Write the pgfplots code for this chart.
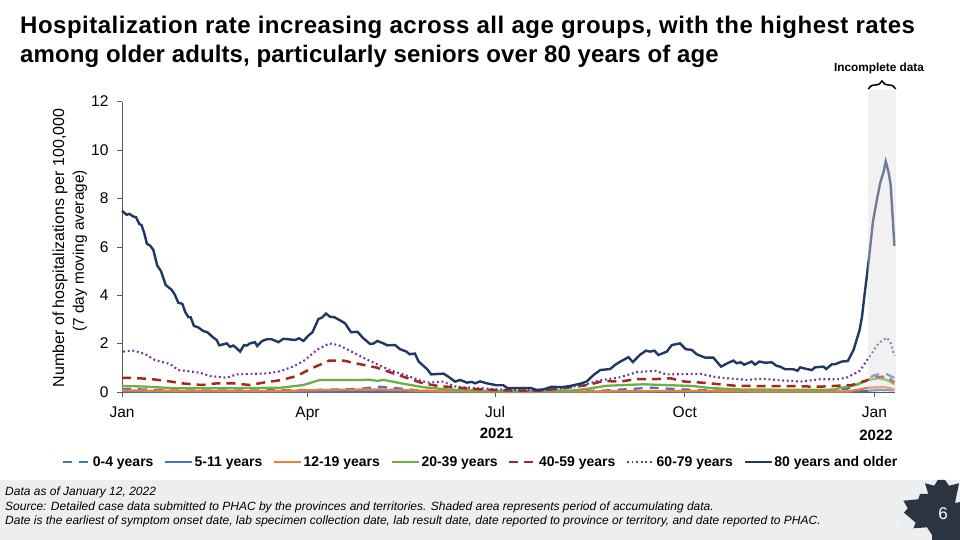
\documentclass[border=0pt]{standalone}
\usepackage{fontspec}
\setmainfont{Liberation Sans}
\usepackage{pgfplots}
\pgfplotsset{compat=1.18}
\usetikzlibrary{decorations.pathreplacing}

\definecolor{bluec}{HTML}{4472C4}
\definecolor{orangec}{HTML}{ED7D31}
\definecolor{greenc}{HTML}{70AD47}
\definecolor{redc}{HTML}{A5281B}
\definecolor{purplec}{HTML}{7030A0}
\definecolor{navyc}{HTML}{1F3864}
\definecolor{axisc}{HTML}{595959}
\definecolor{footc}{HTML}{ECEEF0}
\definecolor{leafc}{HTML}{2B3542}

\newcommand{\leg}[2]{\makebox[#1pt][l]{\strut #2}}

\begin{document}
\begin{tikzpicture}
% everything outside the axis is in image pixels, y downwards
\begin{scope}[x=1pt,y=-1pt,yshift=540pt]
\path[use as bounding box,fill=white] (0,0) rectangle (960,540);
\fill[footc] (0,480) rectangle (960,540);
\end{scope}

\begin{axis}[
    at={(122pt,147.7pt)},
    anchor=south west,
    scale only axis,
    width=773pt,
    height=290.6pt,
    xmin=0, xmax=375,
    ymin=0, ymax=12,
    axis lines=left,
    axis line style={-,axisc,line width=0.9pt},
    clip=false,
    tick align=outside,
    major tick length=5pt,
    tick style={axisc,line width=0.9pt},
    xtick={0,90,181,273,365},
    xticklabels={Jan,Apr,Jul,Oct,Jan},
    ytick={0,2,4,6,8,10,12},
    /pgf/number format/assume math mode=true,
    typeset ticklabels with strut,
    tick label style={font=\fontsize{15.5}{18}\selectfont},
    x tick label style={yshift=-4pt},
    y tick label style={xshift=-5pt,yshift=-1.5pt},
    legend columns=7,
    legend cell align=left,
    legend style={
        at={(-0.0776,-0.24)},
        anchor=west,
        draw=none,
        fill=none,
        inner sep=0pt,
        font=\bfseries\fontsize{14}{16}\selectfont,
        /tikz/every even column/.append style={column sep=0pt},
    },
    legend image code/.code={\draw[#1,line width=1.6pt] (0pt,0pt) -- (27pt,0pt);},
]
% 0-4 years
\addplot[bluec,line width=2.2pt,dash pattern=on 9pt off 7pt] coordinates {
(0,0.14) (10,0.12) (25,0.07) (40,0.08) (55,0.07) (70,0.08) (85,0.09) (95,0.10)
(105,0.12) (115,0.14) (125,0.23) (133,0.17) (145,0.07) (160,0.04) (190,0.02)
(215,0.03) (235,0.08) (245,0.13) (257,0.19) (265,0.15) (280,0.09) (300,0.06)
(320,0.06) (340,0.08) (352,0.15) (358,0.37) (365,0.71) (368,0.75) (371,0.75) (374.7,0.59)
};
\addlegendentry{\leg{69.3}{0-4 years}}
% 5-11 years
\addplot[bluec,line width=2.2pt] coordinates {
(0,0.03) (30,0.02) (60,0.02) (90,0.02) (125,0.04) (160,0.01) (200,0.01)
(240,0.02) (260,0.03) (290,0.02) (330,0.02) (352,0.02) (360,0.05) (368,0.10) (374.7,0.08)
};
\addlegendentry{\leg{76.3}{5-11 years}}
% 12-19 years
\addplot[orangec,line width=2.3pt] coordinates {
(0,0.08) (20,0.06) (50,0.05) (80,0.06) (95,0.09) (105,0.10) (125,0.12) (135,0.09)
(150,0.05) (180,0.03) (210,0.03) (240,0.04) (260,0.05) (285,0.05) (320,0.03)
(352,0.03) (358,0.12) (362,0.19) (370,0.22) (374.7,0.12)
};
\addlegendentry{\leg{85.3}{12-19 years}}
% 20-39 years
\addplot[greenc,line width=2.3pt] coordinates {
(0,0.26) (10,0.24) (25,0.17) (55,0.17) (77,0.19) (88,0.30) (96,0.51) (105,0.51)
(116,0.51) (120,0.52) (124,0.47) (127,0.51) (138,0.33) (146,0.21) (157.6,0.12)
(174,0.07) (192,0.03) (209,0.07) (217.4,0.07) (225.5,0.14) (235,0.27) (253,0.33)
(277,0.26) (285,0.18) (299,0.12) (329,0.10) (345,0.10) (348,0.17) (356,0.30)
(362,0.51) (367,0.58) (371,0.51) (374.7,0.33)
};
\addlegendentry{\leg{85}{20-39 years}}
% 40-59 years
\addplot[redc,line width=2.5pt,dash pattern=on 9pt off 6pt] coordinates {
(0,0.60) (3.9,0.60) (13.6,0.55) (21.7,0.47) (29,0.37) (39,0.30) (46,0.37) (54,0.37)
(62,0.30) (70,0.42) (77,0.50) (84.7,0.67) (92,0.99) (100.6,1.31) (107.4,1.31)
(115.5,1.16) (123.6,1.02) (130,0.83) (138,0.60) (146,0.37) (153.4,0.26) (160.7,0.21)
(173.7,0.12) (190,0.07) (203,0.07) (214,0.17) (226,0.30) (233.6,0.47) (241.6,0.44)
(249.7,0.55) (257.7,0.54) (266,0.58) (273,0.44) (281,0.40) (289,0.34) (297.5,0.27)
(306,0.26) (321.7,0.26) (338,0.23) (354,0.30) (360.5,0.47) (365.4,0.62) (371,0.65) (374.7,0.40)
};
\addlegendentry{\leg{85}{40-59 years}}
% 60-79 years
\addplot[purplec,line width=2.1pt,dash pattern=on 1.8pt off 2.8pt] coordinates {
(0.6,1.68) (5.5,1.72) (11.2,1.58) (16,1.33) (23.3,1.17) (27.3,0.92) (37.8,0.81)
(42.7,0.67) (50.8,0.60) (55.6,0.74) (70.2,0.78) (76.7,0.87) (83,1.06) (88.8,1.33)
(94.5,1.75) (100.6,2.02) (105,1.95) (113,1.61) (120.3,1.29) (130,0.92) (140.5,0.62)
(145,0.47) (149,0.40) (155.5,0.44) (162.8,0.21) (174,0.17) (182,0.12) (192,0.10)
(203,0.07) (214,0.17) (224,0.30) (231,0.48) (241.6,0.62) (249.7,0.83) (258.5,0.89)
(264,0.74) (280.5,0.76) (288.6,0.62) (303,0.51) (310.4,0.56) (319,0.50) (329,0.44)
(338.7,0.54) (347.5,0.54) (352,0.62) (358,0.89) (362,1.40) (367,2.02) (371,2.26)
(373,2.02) (374.7,1.50)
};
\addlegendentry{\leg{85}{60-79 years}}
% 80 years and older
\addplot[navyc,line width=2.4pt] coordinates {
(0,7.49) (2.3,7.33) (3.5,7.37) (5.5,7.26) (6.8,7.23) (8.4,6.95) (9.5,6.90) (10.8,6.57)
(12.1,6.13) (13.6,6.06) (15.2,5.88) (17.1,5.23) (18.9,5.01) (21.2,4.43) (24.1,4.23)
(25.7,4.02) (27.3,3.70) (29.3,3.65) (30.6,3.33) (32.2,3.10) (33.3,3.10) (34.9,2.74)
(37,2.68) (39.4,2.53) (41.4,2.48) (44.3,2.26) (45.9,2.16) (47.2,1.94) (49.1,1.98)
(50.8,2.02) (52.4,1.88) (54,1.93) (55.6,1.82) (57.3,1.68) (59.2,1.95) (60.5,1.93)
(62.1,2.02) (64.5,2.07) (65.6,1.91) (67.8,2.11) (70.2,2.19) (72.6,2.19) (75.9,2.07)
(78.3,2.21) (80.7,2.19) (84,2.16) (85.9,2.23) (88,2.12) (90.4,2.34) (92.4,2.48)
(95.3,3.03) (96.9,3.08) (99,3.25) (100.9,3.12) (103,3.10) (105.4,2.99) (108.2,2.85)
(111.1,2.48) (114.2,2.50) (117.1,2.23) (120.3,2.00) (121.9,2.01) (123.9,2.12)
(126.8,2.02) (128.7,1.94) (132.5,1.95) (134.9,1.78) (138,1.68) (139.5,1.57)
(142.1,1.60) (143.9,1.27) (148,0.96) (150,0.74) (156,0.77) (158.4,0.64) (161.6,0.44)
(164,0.51) (167.3,0.40) (169.7,0.43) (171.3,0.37) (173.7,0.45) (177,0.37) (181.8,0.29)
(185,0.29) (187,0.17) (192.3,0.17) (198,0.18) (201.2,0.10) (204.4,0.12) (208.5,0.23)
(213.3,0.21) (217.4,0.26) (223,0.37) (225.5,0.45) (228.7,0.71) (232,0.92) (236.8,0.96)
(239.2,1.13) (241.6,1.26) (245.7,1.45) (247.8,1.25) (251.3,1.55) (254.2,1.72)
(256.2,1.68) (258.3,1.72) (260.2,1.54) (264.3,1.68) (266.7,1.95) (270.7,2.02)
(273.5,1.78) (276.4,1.75) (278.8,1.57) (282.9,1.43) (286.9,1.43) (290.6,1.06)
(294.2,1.22) (296.6,1.31) (298.2,1.20) (300.2,1.24) (301.8,1.14) (305.5,1.27)
(307.1,1.14) (309.2,1.27) (312,1.22) (315.2,1.24) (317.6,1.09) (319.3,1.06)
(321.7,0.95) (325.7,0.95) (327.7,0.89) (329,1.03) (332.2,0.96) (334.7,0.92)
(336.2,1.03) (340.3,1.06) (341.6,0.96) (344.4,1.16) (346,1.16) (349.2,1.27)
(352.1,1.29) (354.9,1.75) (357.8,2.57) (359,3.12) (360,3.88) (362.1,5.33) (364.3,7.05)
(366.2,7.95) (367.8,8.64) (369.5,9.12) (370.5,9.53) (371.8,9.12) (372.9,8.57) (374.7,6.05)
};
\addlegendentry{\leg{125}{80 years and older}}
\end{axis}

\begin{scope}[x=1pt,y=-1pt,yshift=540pt]
% translucent shading over the last days, the lines show through it
\fill[black!12.5,fill opacity=0.41] (868.3,90) rectangle (895.7,392.3);
\draw[black,line width=1.5pt,decorate,decoration={brace,amplitude=8pt}] (868.3,89) -- (895.7,89);
\node[anchor=base,font=\bfseries\fontsize{11.8}{14}\selectfont] at (879,72) {Incomplete data};

% title
\node[anchor=base west,inner sep=0pt,font=\bfseries\fontsize{24}{28}\selectfont\addfontfeature{LetterSpace=2.1}] at (20,34)
    {Hospitalization rate increasing across all age groups, with the highest rates};
\node[anchor=base west,inner sep=0pt,font=\bfseries\fontsize{24}{28}\selectfont\addfontfeature{LetterSpace=0.4}] at (20,63)
    {among older adults, particularly seniors over 80 years of age};

% axis titles and year labels
\node[rotate=90,font=\fontsize{16}{18}\selectfont,inner sep=0pt] at (60,248) {Number of hospitalizations per 100,000};
\node[rotate=90,font=\fontsize{15.4}{18}\selectfont,inner sep=0pt] at (80,251) {(7 day moving average)};
\node[anchor=base,font=\bfseries\fontsize{15}{17}\selectfont,inner sep=0pt] at (496.5,439) {2021};
\node[anchor=base,font=\bfseries\fontsize{15}{17}\selectfont,inner sep=0pt] at (876,441) {2022};

% footnote
\begin{scope}[every node/.style={anchor=base west,inner sep=0pt,font=\itshape\fontsize{12}{14}\selectfont}]
\node at (5,496) {Data as of January 12, 2022};
\node at (5,510.5) {Source: Detailed case data submitted to PHAC by the provinces and territories. Shaded area represents period of accumulating data.};
\node at (5,525) {Date is the earliest of symptom onset date, lab specimen collection date, lab result date, date reported to province or territory, and date reported to PHAC.};
\end{scope}

% maple leaf with the page number
\begin{scope}
\clip (0,0) rectangle (960,540);
\fill[leafc] (925,483.3) -- (934.3,485.7) -- (937.7,480) -- (945,480) -- (949,485.7) -- (959,483.3)
    -- (955,503) -- (965,501) -- (965,540) -- (932,540) -- (932,535) -- (927,527.3) -- (913.3,528.3) -- (915.7,522.7)
    -- (904,512.7) -- (907.7,508.3) -- (903.3,500.7) -- (918.3,499.3) -- (920,494) -- (928.3,494) -- cycle;
\end{scope}
\node[white,font=\fontsize{17}{20}\selectfont,inner sep=0pt] at (943,514) {6};
\node[white,font=\fontsize{7}{8}\selectfont,inner sep=0pt] at (897,527) {6};
\end{scope}
\end{tikzpicture}
\end{document}
